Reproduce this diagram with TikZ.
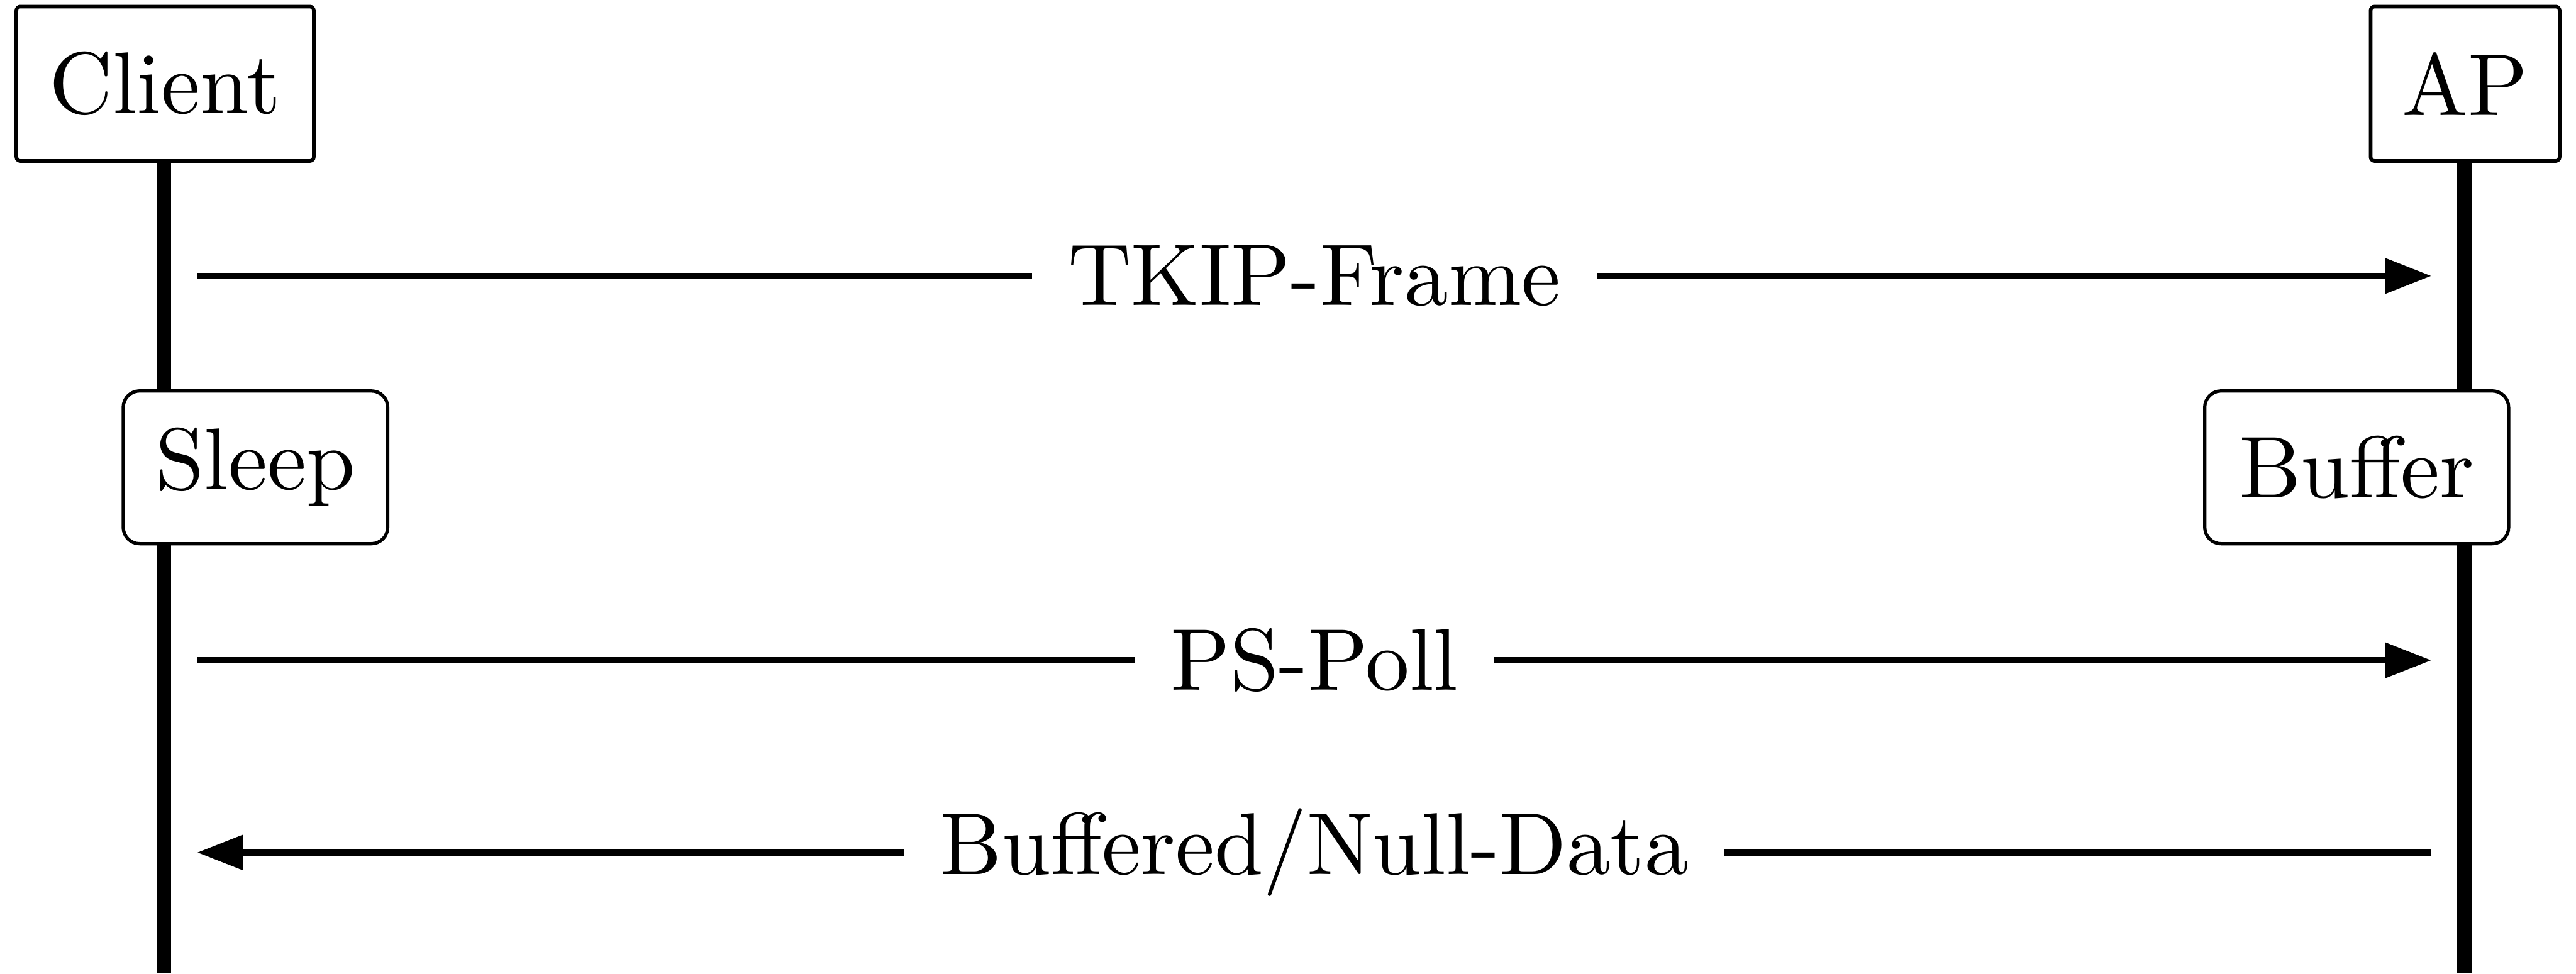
\documentclass[tikz,border=0pt]{standalone}
\usetikzlibrary{arrows.meta}
% labels are set at 10pt and enlarged, keeping the 10pt design size
\newcommand{\biglabel}[1]{\scalebox{2.67}{#1}}
\begin{document}
\begin{tikzpicture}[x=0.5pt,y=-0.5pt,
  every node/.style={font=\fontsize{10}{12}\selectfont},
  actor/.style={draw,line width=1.1pt,rounded corners=1.2pt,fill=white,
    inner sep=0pt,minimum height=47pt},
  state/.style={draw,line width=1pt,rounded corners=5pt,fill=white,
    inner sep=0pt,minimum height=46.5pt},
  lifeline/.style={line width=4.3pt},
  msg/.style={line width=2pt,-{Stealth[inset=0pt,length=14pt,width=10.3pt]}},
  msglabel/.style={fill=white,inner xsep=11pt,inner ysep=2pt}]
  \useasboundingbox (0,0) rectangle (1568,592.6);

  % participants and their lifelines
  \node[actor,minimum width=90.5pt] (client) at (100.5,51) {\biglabel{Client}};
  \node[actor,minimum width=57.5pt] (ap) at (1500.5,51) {\biglabel{AP}};
  \coordinate (clientend) at (100,592.6);
  \coordinate (apend) at (1500,592.6);
  \draw[lifeline] (client.south -| clientend) -- (clientend);
  \draw[lifeline] (ap.south -| apend) -- (apend);

  % state boxes sitting on the lifelines
  \node[state,minimum width=80.5pt] (sleep) at (155.5,284.5) {\biglabel{Sleep}};
  \node[state,minimum width=92.5pt] (buffer) at (1434.5,284.5) {\biglabel{Buffer}};

  % message end points
  \coordinate (c1) at (120,168);  \coordinate (a1) at (1480,168);
  \coordinate (c2) at (120,402);  \coordinate (a2) at (1480,402);
  \coordinate (c3) at (120,519);  \coordinate (a3) at (1480,519);

  % messages
  \draw[msg] (c1) -- node[msglabel] (m1) {\biglabel{TKIP-Frame}} (a1);
  \draw[msg] (c2) -- node[msglabel] (m2) {\biglabel{PS-Poll}} (a2);
  \draw[msg] (a3) -- node[msglabel] (m3) {\biglabel{Buffered/Null-Data}} (c3);
\end{tikzpicture}
\end{document}
